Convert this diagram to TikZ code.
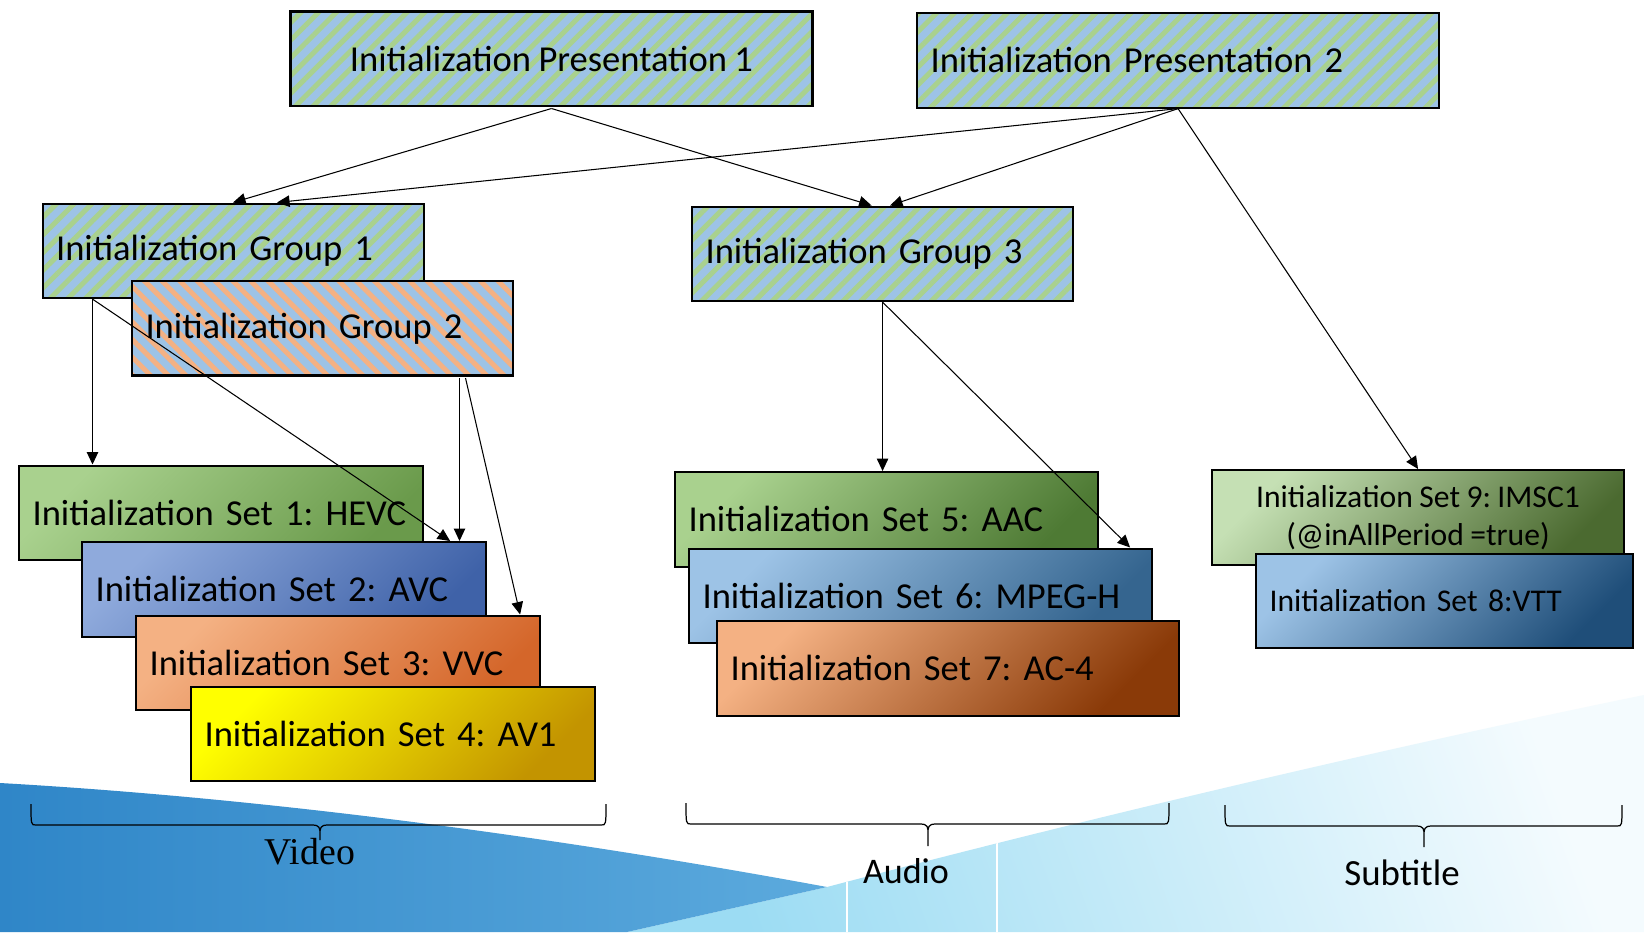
\documentclass[tikz,border=0pt]{standalone}
\usepackage{fontspec}
\setmainfont{Carlito}[WordSpace=0.9]
\newfontfamily\videofont{Liberation Serif}
\usepackage{tikz}
\usetikzlibrary{positioning}
\usetikzlibrary{calc,arrows.meta,patterns.meta}

\definecolor{HatchBlue}{HTML}{9DC3E6}
\definecolor{HatchGreen}{HTML}{A9D18E}
\definecolor{HatchOrange}{HTML}{F4B183}
\definecolor{SwooshDark}{HTML}{2F86C8}
\definecolor{SwooshLight}{HTML}{5CAADD}
\definecolor{SkyLight}{HTML}{9CDCF3}
\definecolor{SkyPale}{HTML}{F4FBFE}

\definecolor{GreenDark}{HTML}{6A9A4B}
\definecolor{AvcLight}{HTML}{8FAADC}
\definecolor{AvcDark}{HTML}{3F62A8}
\definecolor{VvcDark}{HTML}{D4662A}
\definecolor{AvOneDark}{HTML}{C39400}
\definecolor{AacDark}{HTML}{4E7A34}
\definecolor{MpegDark}{HTML}{35658F}
\definecolor{AcFourDark}{HTML}{8A3A08}
\definecolor{ImscLight}{HTML}{C5E0B4}
\definecolor{ImscDark}{HTML}{4B6A30}
\definecolor{VttDark}{HTML}{1F4E79}

\tikzset{
	initbox/.style={draw, line width=1.2pt, anchor=north west, minimum height=1.89cm,
		inner xsep=0.27cm, inner ysep=0pt, align=left, font=\fontsize{20.8}{25}\selectfont},
	stripes/.style 2 args={preaction={fill=HatchBlue},
		pattern={Lines[angle=#1,distance=0.25cm,line width=0.10cm]}, pattern color=#2},
	grad/.style 2 args={top color=#1, bottom color=#2, shading angle=45},
	link/.style={line width=0.6pt, -{Triangle[length=0.25cm,width=0.23cm]}},
	bracket/.style={line width=0.7pt},
}

% left, tip, right, top, line, bottom
\newcommand{\groupbrace}[6]{%
	\draw[bracket] (#1,#4) .. controls (#1,#5) .. (#1+0.10,#5) -- (#2-0.16,#5)
		.. controls (#2,#5) and (#2,#5-0.06) .. (#2,#5-0.20) -- (#2,#6) -- (#2,#5-0.20)
		.. controls (#2,#5-0.06) and (#2,#5) .. (#2+0.16,#5) -- (#3-0.10,#5)
		.. controls (#3,#5) .. (#3,#4);%
}

\frenchspacing

\begin{document}
\begin{tikzpicture}

	\useasboundingbox (0,0) rectangle (32.88,-18.64);

	% ---------------------
	% Background swoosh
	\fill[white] (0,0) rectangle (32.88,-18.64);
	\begin{scope}
		\clip (12.54,-18.64) -- (16.54,-17.74) .. controls (22.00,-16.30) and (28.00,-14.90) .. (32.88,-13.90) -- (32.88,-18.64) -- cycle;
		\shade[top color=SkyPale, bottom color=SkyLight, shading angle=-70] (12.54,-18.64) rectangle (32.88,-13.90);
		\draw[white, line width=0.8pt] (16.94,-13.90) -- (16.94,-18.64);
		\draw[white, line width=0.8pt] (19.94,-13.90) -- (19.94,-18.64);
	\end{scope}
	\shade[left color=SwooshDark, right color=SwooshLight] (0,-15.66) .. controls (6.00,-16.00) and (12.00,-16.90) .. (16.54,-17.74) -- (12.54,-18.64) -- (0,-18.64) -- cycle;

	% ---------------------
	% Presentations
	\node[initbox, stripes={45}{HatchGreen}, minimum width=10.44cm, align=center] (PresOne) at (5.76,-0.18) {Initialization Presentation 1};
	\node[initbox, stripes={45}{HatchGreen}, text width=9.90cm] (PresTwo) at (18.32,-0.24) {Initialization Presentation 2};

	% ---------------------
	% Groups
	\node[initbox, stripes={45}{HatchGreen}, text width=7.08cm] (GroupOne) at (0.83,-4.05) {Initialization Group 1};
	\node[initbox, stripes={-45}{HatchOrange}, text width=7.08cm] (GroupTwo) at (2.59,-5.57) {Initialization Group 2};
	\node[initbox, stripes={45}{HatchGreen}, text width=7.08cm] (GroupThree) at (13.82,-4.11) {Initialization Group 3};

	% ---------------------
	% Video sets
	\node[initbox, grad={HatchGreen}{GreenDark}, text width=7.53cm] (SetHEVC) at (0.36,-9.29) {Initialization Set 1: HEVC};
	\node[initbox, grad={AvcLight}{AvcDark}, text width=7.53cm] (SetAVC) at (1.62,-10.82) {Initialization Set 2: AVC};
	\node[initbox, grad={HatchOrange}{VvcDark}, text width=7.53cm] (SetVVC) at (2.70,-12.29) {Initialization Set 3: VVC};
	\node[initbox, grad={yellow}{AvOneDark}, text width=7.53cm] (SetAVOne) at (3.80,-13.71) {Initialization Set 4: AV1};

	% ---------------------
	% Audio sets
	\node[initbox, grad={HatchGreen}{AacDark}, text width=7.91cm] (SetAAC) at (13.48,-9.42) {Initialization Set 5: AAC};
	\node[initbox, grad={HatchBlue}{MpegDark}, text width=8.71cm] (SetMPEGH) at (13.76,-10.95) {Initialization Set 6: MPEG-H};
	\node[initbox, grad={HatchOrange}{AcFourDark}, text width=8.69cm] (SetACFour) at (14.32,-12.40) {Initialization Set 7: AC-4};

	% ---------------------
	% Subtitle sets
	\node[initbox, grad={ImscLight}{ImscDark}, minimum width=8.24cm, align=center, font=\fontsize{18}{21.6}\selectfont] (SetIMSC) at (24.22,-9.38) {Initialization Set 9: IMSC1\\(@inAllPeriod =true)};
	\node[initbox, grad={HatchBlue}{VttDark}, text width=6.99cm, font=\fontsize{18}{21.6}\selectfont] (SetVTT) at (25.10,-11.05) {Initialization Set 8:VTT};

	% ---------------------
	% Braces & labels
	\groupbrace{0.62}{6.40}{12.12}{-16.08}{-16.50}{-16.80}
	\groupbrace{13.72}{18.56}{23.38}{-16.06}{-16.48}{-16.92}
	\groupbrace{24.50}{28.48}{32.44}{-16.10}{-16.52}{-16.94}

	\node[anchor=base, font=\videofont\fontsize{21.5}{25}\selectfont] (VideoLabel) at (6.20,-17.28) {Video};
	\node[anchor=base, font=\fontsize{20.5}{25}\selectfont] (AudioLabel) at (18.12,-17.66) {Audio};
	\node[anchor=base, font=\fontsize{21}{25}\selectfont] (SubtitleLabel) at (28.04,-17.70) {Subtitle};

	% ------------------------------------------------
	% Links
	\draw[link] (PresOne.south) -- (GroupOne.north);
	\draw[link] (PresTwo.south) -- ([xshift=0.88cm]GroupOne.north);
	\draw[link] (PresOne.south) -- ([xshift=-0.22cm]GroupThree.north);
	\draw[link] (PresTwo.south) -- ([xshift=0.15cm]GroupThree.north);
	\draw[link] (PresTwo.south) -- (SetIMSC.north);

	\path (GroupOne.south west) +(1.02cm,0) coordinate (GroupOneOut);
	\draw[link] (GroupOneOut) -- (GroupOneOut |- SetHEVC.north);
	\draw[link] (GroupOneOut) -- ([xshift=-0.73cm]SetAVC.north east);

	\path (GroupTwo.south east) +(-1.12cm,0) coordinate (GroupTwoOutA);
	\path (GroupTwo.south east) +(-1.00cm,0) coordinate (GroupTwoOutB);
	\draw[link] (GroupTwoOutA) -- (GroupTwoOutA |- SetAVC.north);
	\draw[link] (GroupTwoOutB) -- ([xshift=-0.41cm]SetVVC.north east);

	\draw[link] (GroupThree.south) -- (GroupThree.south |- SetAAC.north);
	\draw[link] (GroupThree.south) -- ([xshift=-0.45cm]SetMPEGH.north east);

\end{tikzpicture}
\end{document}
